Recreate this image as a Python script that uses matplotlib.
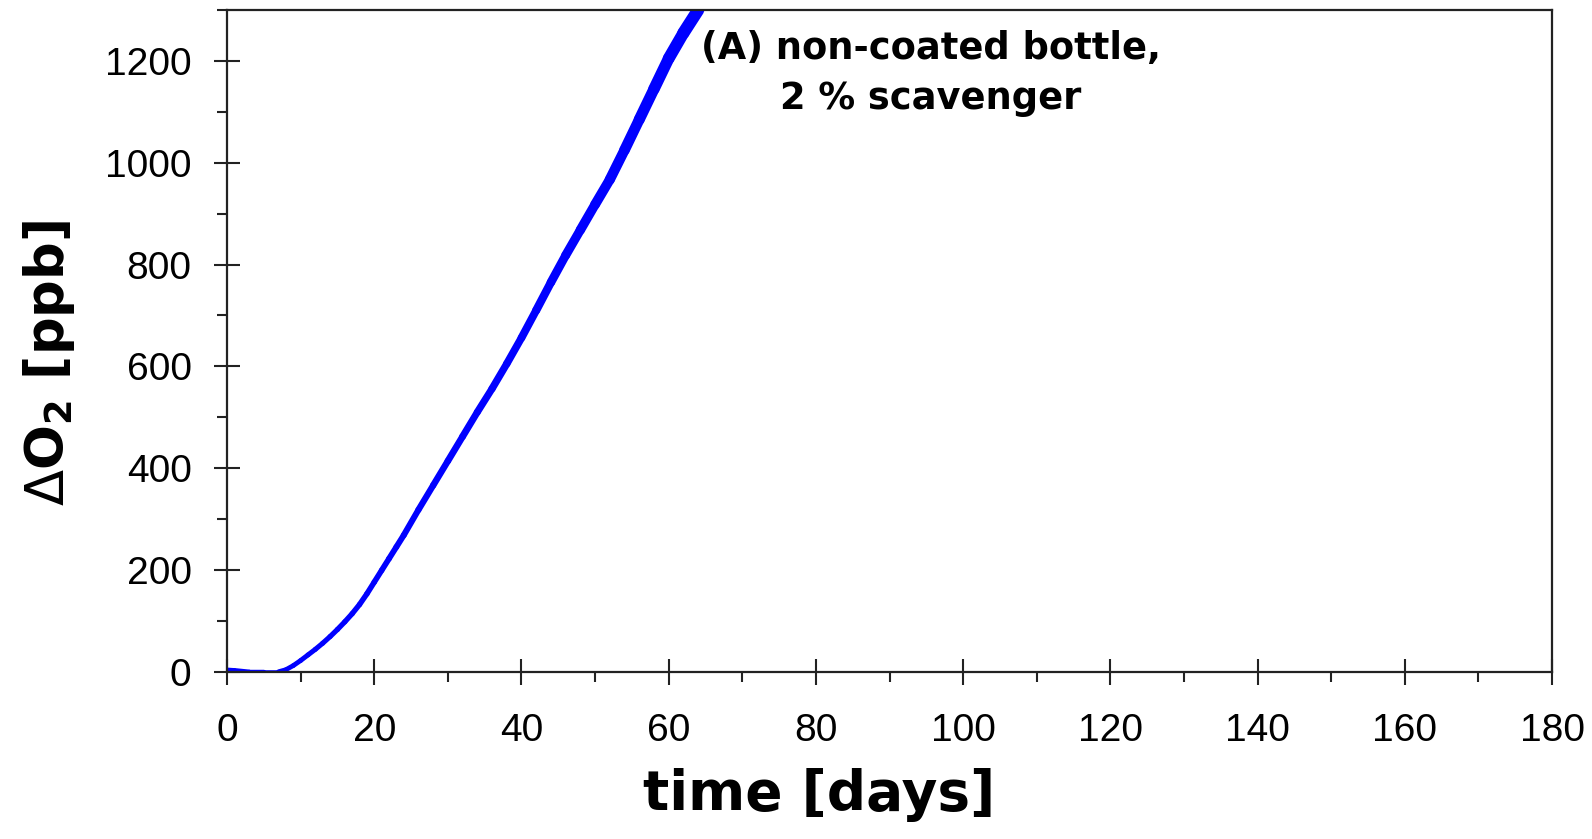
import numpy as np
import matplotlib
matplotlib.use("Agg")
import matplotlib.pyplot as plt
from matplotlib.ticker import MultipleLocator
from matplotlib.collections import LineCollection

# oxygen ingress, non-coated bottle with 2 % scavenger
days = [0, 1, 3, 5, 7, 8, 9, 10, 11, 12, 13, 14, 15, 16, 17, 18, 19, 20,
        21, 22, 23, 24, 26, 28, 30, 32, 34, 36, 38, 40, 42, 44, 46, 48,
        50, 52, 54, 56, 58, 60, 62, 64]
o2_ppb = [4, 3, 0, 0, 0, 4, 12, 22, 33, 44, 56, 69, 83, 98, 114, 132, 153, 176,
          199, 222, 245, 268, 318, 366, 414, 462, 510, 556, 605, 656, 710, 765,
          818, 868, 918, 967, 1025, 1085, 1145, 1205, 1255, 1300]

x_ticks = [0, 20, 40, 60, 80, 100, 120, 140, 160, 180]
y_ticks = [0, 200, 400, 600, 800, 1000, 1200]
label_text = "(A) non-coated bottle,\n2 % scavenger"

fig = plt.figure(figsize=(15.92, 8.39), dpi=100)
ax = fig.add_axes([0.1426, 0.1994, 0.9749 - 0.1426, 0.988 - 0.1994])

d = np.array(days, dtype=float)
v = np.array(o2_ppb, dtype=float)

# the trace gets noisier (thicker) as it climbs -> widen the line gradually
pts = np.column_stack([d, v]).reshape(-1, 1, 2)
segs = np.concatenate([pts[:-1], pts[1:]], axis=1)
mid = (d[:-1] + d[1:]) / 2
widths = np.interp(mid, [0, 20, 40, 64], [3.0, 4.0, 5.5, 9.0])
lc = LineCollection(segs, colors='#0000ff', linewidths=widths, capstyle='round')
ax.add_collection(lc)

ax.set_xlim(0, 180)
ax.set_ylim(0, 1300)
ax.set_xticks(x_ticks)
ax.set_yticks(y_ticks)
ax.xaxis.set_minor_locator(MultipleLocator(10))
ax.yaxis.set_minor_locator(MultipleLocator(100))

for s in ax.spines.values():
    s.set_linewidth(1.6)
    s.set_color('#222222')

ax.tick_params(which='major', direction='inout', length=19, width=1.5, color='#222222', pad=16)
ax.tick_params(which='minor', direction='out', length=7, width=1.5, color='#222222')
ax.tick_params(axis='x', which='major', pad=20)
for lab in ax.get_xticklabels() + ax.get_yticklabels():
    lab.set_fontfamily('Liberation Sans')
    lab.set_fontsize(28)

ax.set_xlabel('time [days]', fontsize=39.5, fontweight='bold', family='DejaVu Sans')
ax.xaxis.set_label_coords(0.447, -0.145)
ax.set_ylabel(r'$\Delta$O$_\mathbf{2}$ [ppb]', fontsize=38, fontweight='bold',
              family='DejaVu Sans')
ax.yaxis.set_label_coords(-0.113, 0.467)

ax.text(95.6, 1176, label_text, fontsize=26.5, fontweight='bold', family='DejaVu Sans',
        ha='center', va='center', linespacing=1.45)

fig.savefig('out.png', dpi=100)
